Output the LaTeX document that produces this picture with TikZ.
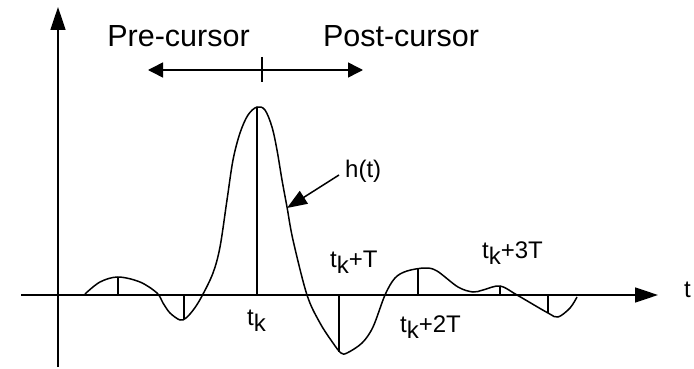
\documentclass[tikz,border=0pt]{standalone}
\usepackage{fontspec}
\setmainfont{Liberation Sans}
\usetikzlibrary{arrows.meta}
\newcommand{\tksub}{t\raisebox{-6pt}{k}}
\tikzset{
  axisline/.style={line width=1.6pt, -{Triangle[length=23pt,width=15pt]}},
  cursorline/.style={line width=1.5pt, {Triangle[length=15pt,width=15pt]}-{Triangle[length=15pt,width=15pt]}},
  pointer/.style={line width=1.5pt, -{Triangle[length=20pt,width=15pt]}},
  curve/.style={line width=1.5pt},
  tick/.style={line width=1.5pt},
  bigtext/.style={font=\fontsize{30.5}{35}\selectfont, inner sep=0pt, anchor=base},
  smalltext/.style={font=\fontsize{24}{28}\selectfont, inner sep=0pt, anchor=base west},
}
\begin{document}
\begin{tikzpicture}[x=1pt,y=-1pt]
\useasboundingbox (0,0) rectangle (694,369);
% axes
\coordinate (ybot) at (58,367);
\coordinate (ytop) at (58,7);
\coordinate (xleft) at (21,295);
\coordinate (xright) at (658,295);
\draw[axisline] (ybot) -- (ytop);
\draw[axisline] (xleft) -- (xright);
% cursor arrow
\coordinate (cl) at (148,70);
\coordinate (cr) at (363,70);
\coordinate (ct1) at (262,57);
\coordinate (ct2) at (262,82);
\draw[cursorline] (cl) -- (cr);
\draw[tick] (ct1) -- (ct2);
\node[bigtext] (pre) at (178.5,47) {Pre-cursor};
\node[bigtext] (post) at (401,47) {Post-cursor};
% pulse
\draw[curve] plot[smooth, tension=0.55] coordinates {
 (85,294) (100,282) (118,277) (140,282) (157,293) (163,303) (170,313) (180,320)
 (186,318) (194,309) (202,296) (213,273) (220,247) (227,200) (233,160) (240,133)
 (248,115) (257,107) (265,110) (272,127) (277,150) (282,180) (287,207) (293,240)
 (307,295) (320,323) (333,343) (341,353) (347,353) (362,343) (373,327) (385,295)
 (395,278) (407,271) (425,268) (437,271) (458,287) (473,292) (483,290) (500,286)
 (517,295) (548,313) (558,317) (570,308) (577,297)};
% sample ticks
\foreach \n/\xx/\ya/\yb in {s1/118/277/295, s2/184/295/319, s3/257/107/295, s4/339/295/352,
  s5/418/269/295, s6/500/286/295, s7/548/295/313}{
  \coordinate (\n a) at (\xx,\ya);
  \coordinate (\n b) at (\xx,\yb);
  \draw[tick] (\n a) -- (\n b);
}
% h(t) label and pointer
\node[smalltext] (ht) at (345,177) {h(t)};
\coordinate (hfrom) at (339,175);
\coordinate (hto) at (287,208);
\draw[pointer] (hfrom) -- (hto);
% labels
\node[smalltext] (tlab) at (684,297) {t};
\node[smalltext] (tk) at (247,325) {\tksub};
\node[smalltext] (tkT) at (330,267) {\tksub+T};
\node[smalltext] (tk2T) at (400,332) {\tksub+2T};
\node[smalltext] (tk3T) at (482,258) {\tksub+3T};
\end{tikzpicture}
\end{document}
